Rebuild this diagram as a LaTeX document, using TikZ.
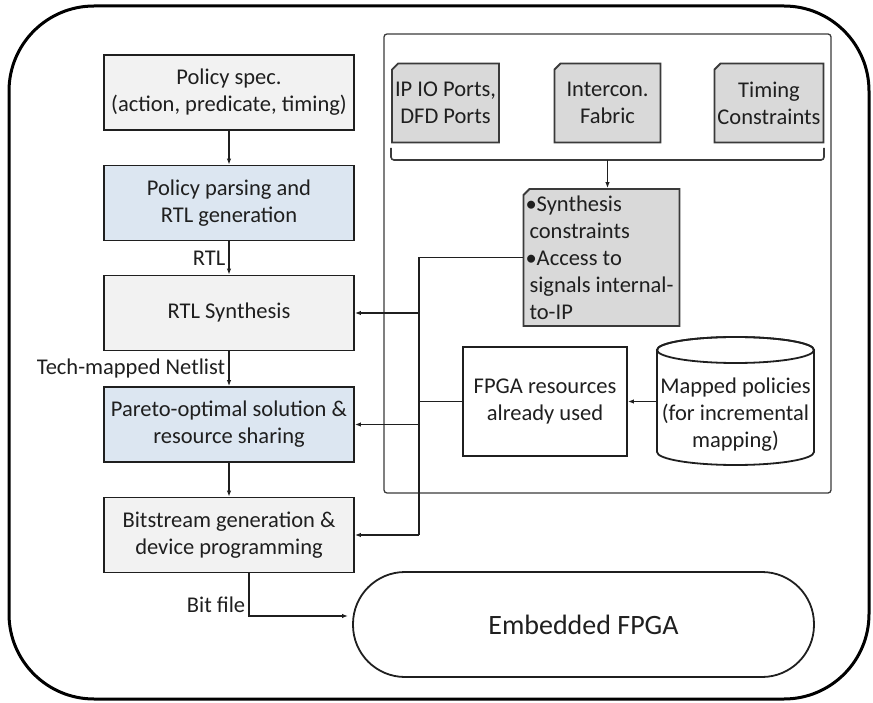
\documentclass[tikz,border=0pt]{standalone}
\usepackage{fontspec}
\setmainfont{Carlito}
\usetikzlibrary{arrows.meta,shapes.misc}
\definecolor{ink}{HTML}{1F1F1F}
\definecolor{edge}{HTML}{3A3A3A}
\definecolor{paper}{HTML}{F2F2F2}
\definecolor{skyfill}{HTML}{DCE6F1}
\definecolor{chipfill}{HTML}{D9D9D9}
\begin{document}
\begin{tikzpicture}[x=1pt,y=-1pt,
  font=\fontsize{22.5}{27}\selectfont, text=ink,
  flow/.style={draw=ink, line width=1.8pt, minimum width=250pt, minimum height=75pt,
    align=center, inner sep=2pt},
  chip/.style={chamfered rectangle, chamfered rectangle corners=north west,
    chamfered rectangle xsep=3pt, chamfered rectangle ysep=3pt,
    draw=edge, fill=chipfill, line width=1.8pt, align=center, inner sep=0pt,
    minimum width=106pt, minimum height=79pt},
  plain/.style={draw=ink, line width=1.8pt, align=center, inner sep=2pt},
  wire/.style={draw=ink, line width=1.6pt},
  arr/.style={wire, -{Latex[length=6pt,width=4.5pt]}},
  lbl/.style={inner sep=0pt}]
\useasboundingbox (0,0) rectangle (873,703);

% outer frame and the right-hand panel
\draw[line width=3pt, rounded corners=85pt] (9,6) rectangle (869,699);
\draw[draw=edge, line width=1.3pt, rounded corners=3pt] (384,34) rectangle (831,493);

% left-hand flow
\node[flow, fill=paper]  (spec)   at (229,92.5) {Policy spec.\\(action, predicate, timing)};
\node[flow, fill=skyfill] (parse) at (229,203)  {Policy parsing and\\RTL generation};
\node[flow, fill=paper]  (rtlsyn) at (229,313)  {RTL Synthesis};
\node[flow, fill=skyfill] (pareto) at (229,424.5) {Pareto-optimal solution \&\\resource sharing};
\node[flow, fill=paper]  (bits)   at (229,535)  {Bitstream generation \&\\device programming};

% design inputs
\node[chip] (ip) at (445.5,103) {IP IO Ports,\\DFD Ports};
\node[chip] (ic) at (607.5,103) {Intercon.\\Fabric};
\node[chip] (tc) at (769,103)   {Timing\\Constraints};

\node[chip, align=left, minimum width=151pt, minimum height=137pt, inner xsep=3pt]
  (syn) at (601.5,257.5)
  {\hspace*{-4pt}•Synthesis\\constraints\\\hspace*{-4pt}•Access to\\signals internal-\\to-IP};

\node[plain, minimum width=164pt, minimum height=109pt] (fpga) at (545,401.5)
  {FPGA resources\\already used};

% database of mapped policies
\draw[draw=ink, line width=1.8pt, fill=white]
  (657,350) -- (657,452) arc[start angle=180, end angle=0, x radius=78.5, y radius=13]
  -- (814,350) arc[start angle=0, end angle=-180, x radius=78.5, y radius=13] -- cycle;
\draw[draw=ink, line width=1.8pt] (735.5,350) ellipse[x radius=78.5, y radius=13];
\node[align=center, minimum width=157pt, inner sep=0pt] (mapped) at (735.5,415)
  {Mapped policies\\(for incremental\\mapping)};

\node[draw=ink, line width=1.8pt, rounded corners=52pt, minimum width=461pt,
  minimum height=105pt, font=\fontsize{28}{32}\selectfont] (emb) at (583.5,624.5)
  {Embedded FPGA};

% bracket collecting the design inputs
\draw[draw=edge, line width=1.6pt, rounded corners=3pt]
  (391,148) -- (391,160) -- (824,160) -- (824,148);
\coordinate (bk) at (607.5,160);
\draw[arr] (bk) -- (bk |- syn.north);

% flow arrows
\draw[arr] (spec) -- (parse);
\draw[arr] (parse) -- node[lbl, left=3pt] {RTL} (rtlsyn);
\draw[arr] (rtlsyn) -- node[lbl, left=3pt] {Tech-mapped Netlist} (pareto);
\draw[arr] (pareto) -- (bits);
\coordinate (bitend) at (348,616);
\draw[arr] ([xshift=20pt]bits.south) |- node[lbl, left=3pt, pos=0.37] {Bit file} (bitend);

% constraint bus
\coordinate (busx) at (419,0);
\draw[wire] (syn.west) -- (syn.west -| busx) -- (bits.east -| busx);
\draw[arr] (rtlsyn.east -| busx) -- (rtlsyn.east);
\draw[arr] (pareto.east -| busx) -- (pareto.east);
\draw[arr] (bits.east -| busx) -- (bits.east);
\draw[wire] (fpga.west) -- (fpga.west -| busx);
\draw[arr] (mapped.west |- fpga.east) -- (fpga.east);
\end{tikzpicture}
\end{document}
